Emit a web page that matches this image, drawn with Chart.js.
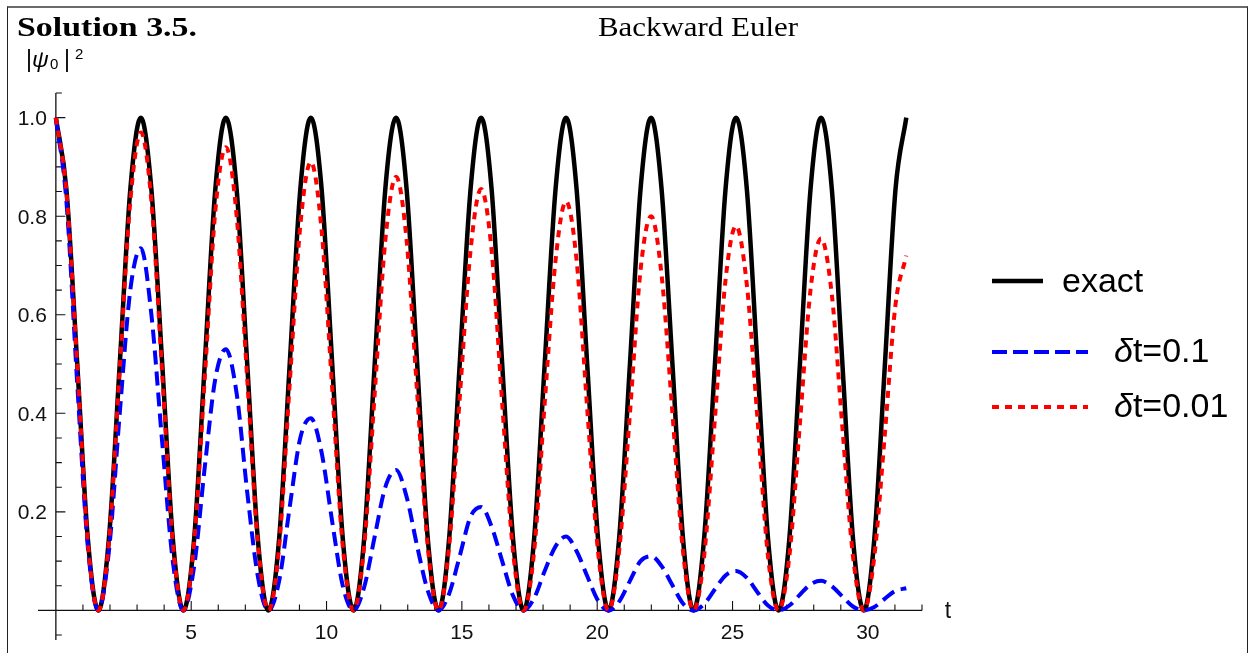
<!DOCTYPE html>
<html>
<head>
<meta charset="utf-8">
<script src="https://cdn.jsdelivr.net/npm/chart.js@4.4.1/dist/chart.umd.min.js"></script>
<style>
  html, body { margin: 0; padding: 0; background: #fff; }
  #wrap { position: relative; width: 1253px; height: 653px; overflow: hidden; }
  #frame { position: absolute; left: 7px; top: 6px; width: 1239px; height: 700px;
           border-top: 2px solid #6b6b6b; border-left: 1px solid #222; border-right: 1px solid #222; }
  canvas { position: absolute; left: 0; top: 0; }
</style>
</head>
<body>
<div id="wrap">
  <div id="frame"></div>
  <canvas id="chart" width="1253" height="653"></canvas>
</div>
<script>
// sample times (~pi/8 apart)
const times = [
  0, 0.39, 0.79, 1.18, 1.57, 1.96, 2.36, 2.75,
  3.14, 3.53, 3.93, 4.32, 4.71, 5.11, 5.50, 5.89,
  6.28, 6.68, 7.07, 7.46, 7.85, 8.25, 8.64, 9.03,
  9.42, 9.82, 10.21, 10.60, 11.00, 11.39, 11.78, 12.17,
  12.57, 12.96, 13.35, 13.74, 14.14, 14.53, 14.92, 15.32,
  15.71, 16.10, 16.49, 16.89, 17.28, 17.67, 18.06, 18.46,
  18.85, 19.24, 19.63, 20.03, 20.42, 20.81, 21.21, 21.60,
  21.99, 22.38, 22.78, 23.17, 23.56, 23.95, 24.35, 24.74,
  25.13, 25.53, 25.92, 26.31, 26.70, 27.10, 27.49, 27.88,
  28.27, 28.67, 29.06, 29.45, 29.85, 30.24, 30.63, 31.02,
  31.42
];

const exact = [
  1, 0.854, 0.5, 0.146, 0, 0.146, 0.5, 0.854,
  1, 0.854, 0.5, 0.146, 0, 0.146, 0.5, 0.854,
  1, 0.854, 0.5, 0.146, 0, 0.146, 0.5, 0.854,
  1, 0.854, 0.5, 0.146, 0, 0.146, 0.5, 0.854,
  1, 0.854, 0.5, 0.146, 0, 0.146, 0.5, 0.854,
  1, 0.854, 0.5, 0.146, 0, 0.146, 0.5, 0.854,
  1, 0.854, 0.5, 0.146, 0, 0.146, 0.5, 0.854,
  1, 0.854, 0.5, 0.146, 0, 0.146, 0.5, 0.854,
  1, 0.854, 0.5, 0.146, 0, 0.146, 0.5, 0.854,
  1, 0.854, 0.5, 0.146, 0, 0.146, 0.5, 0.854,
  1
];

// backward Euler, dt = 0.1
const dt01 = [
  1, 0.83, 0.46, 0.13, 0, 0.12, 0.40, 0.65,
  0.735, 0.60, 0.34, 0.10, 0, 0.09, 0.29, 0.47,
  0.53, 0.44, 0.24, 0.07, 0, 0.06, 0.21, 0.35,
  0.39, 0.32, 0.18, 0.05, 0, 0.047, 0.15, 0.25,
  0.285, 0.23, 0.13, 0.04, 0, 0.034, 0.11, 0.19,
  0.21, 0.17, 0.10, 0.03, 0, 0.025, 0.08, 0.13,
  0.15, 0.12, 0.07, 0.02, 0, 0.018, 0.06, 0.10,
  0.11, 0.09, 0.051, 0.014, 0, 0.013, 0.043, 0.071,
  0.08, 0.066, 0.037, 0.01, 0, 0.01, 0.032, 0.053,
  0.06, 0.049, 0.028, 0.008, 0, 0.007, 0.024, 0.040,
  0.045
];

// backward Euler, dt = 0.01
const dt001 = [
  1, 0.85, 0.50, 0.14, 0, 0.14, 0.49, 0.83,
  0.97, 0.83, 0.48, 0.14, 0, 0.14, 0.47, 0.81,
  0.94, 0.80, 0.47, 0.14, 0, 0.13, 0.46, 0.78,
  0.91, 0.77, 0.45, 0.13, 0, 0.13, 0.44, 0.75,
  0.88, 0.75, 0.44, 0.13, 0, 0.13, 0.43, 0.73,
  0.855, 0.73, 0.42, 0.12, 0, 0.12, 0.42, 0.71,
  0.83, 0.71, 0.41, 0.12, 0, 0.12, 0.40, 0.69,
  0.80, 0.68, 0.40, 0.12, 0, 0.11, 0.39, 0.67,
  0.78, 0.66, 0.39, 0.11, 0, 0.11, 0.38, 0.65,
  0.755, 0.64, 0.37, 0.11, 0, 0.11, 0.36, 0.62,
  0.72
];

const xTickValues = [5, 10, 15, 20, 25, 30];
const yTickValues = [0.2, 0.4, 0.6, 0.8, 1.0];
const yTickLabels = ["0.2", "0.4", "0.6", "0.8", "1.0"];
const seriesNames = ["exact", "δt=0.1", "δt=0.01"];

const pts = (ys) => ys.map((v, i) => ({ x: times[i], y: v }));

const sans = '"Liberation Sans", Arial, sans-serif';
const serif = '"Liberation Serif", "Times New Roman", serif';

// draw text squeezed/stretched to a target width
const fitText = (ctx, text, x, y, w) => {
  const m = ctx.measureText(text).width;
  ctx.save();
  ctx.translate(x, y);
  ctx.scale(w / m, 1);
  ctx.fillText(text, 0, 0);
  ctx.restore();
};

const axesPlugin = {
  id: "mmaAxes",
  beforeDatasetsDraw(chart) {
    const { ctx, scales: { x, y } } = chart;
    const x0 = x.getPixelForValue(0);
    const y0 = y.getPixelForValue(0);
    ctx.save();
    ctx.strokeStyle = "#111";
    ctx.lineWidth = 1.3;
    ctx.beginPath();
    ctx.moveTo(x.left, y0); ctx.lineTo(x.right, y0);
    ctx.moveTo(x0, y.top); ctx.lineTo(x0, y.bottom);
    ctx.stroke();

    ctx.lineWidth = 1.1;
    ctx.beginPath();
    for (let t = 1; t <= 32; t++) {
      const px = x.getPixelForValue(t);
      const len = t % 5 === 0 ? 9.5 : 6;
      ctx.moveTo(px, y0); ctx.lineTo(px, y0 - len);
    }
    for (let k = -1; k <= 21; k++) {
      if (k === 0) continue;
      const py = y.getPixelForValue(k * 0.05);
      const len = k % 4 === 0 ? 9.5 : 6;
      ctx.moveTo(x0, py); ctx.lineTo(x0 + len, py);
    }
    ctx.stroke();

    ctx.fillStyle = "#111";
    ctx.font = "21px " + sans;
    ctx.textAlign = "right";
    ctx.textBaseline = "alphabetic";
    yTickValues.forEach((v, i) => ctx.fillText(yTickLabels[i], x0 - 9, y.getPixelForValue(v) + 7.5));
    ctx.textAlign = "center";
    xTickValues.forEach((v) => ctx.fillText(String(v), x.getPixelForValue(v), 639));
    ctx.font = "23px " + sans;
    ctx.fillText("t", 948, 618);
    ctx.restore();
  },
  afterDraw(chart) {
    const { ctx } = chart;
    ctx.save();
    ctx.fillStyle = "#000";
    ctx.textAlign = "left";
    ctx.textBaseline = "alphabetic";

    ctx.font = "bold 28px " + serif;
    fitText(ctx, "Solution 3.5.", 17, 36, 180);
    ctx.font = "28px " + serif;
    fitText(ctx, "Backward Euler", 598, 36, 200);

    // y axis label |psi_0|^2
    ctx.font = "23px " + sans;
    ctx.fillText("|", 26, 67);
    ctx.font = "italic 23px " + sans;
    ctx.fillText("ψ", 32, 67);
    ctx.font = "15px " + sans;
    ctx.fillText("0", 50, 69);
    ctx.font = "23px " + sans;
    ctx.fillText("|", 64, 67);
    ctx.font = "15px " + sans;
    ctx.fillText("2", 75, 59);

    // legend
    ctx.lineCap = "butt";
    ctx.strokeStyle = "#000";
    ctx.lineWidth = 4.5;
    ctx.beginPath(); ctx.moveTo(992, 281); ctx.lineTo(1043, 281); ctx.stroke();
    ctx.strokeStyle = "#0000ff";
    ctx.lineWidth = 4;
    ctx.setLineDash([15, 6]);
    ctx.beginPath(); ctx.moveTo(992, 352); ctx.lineTo(1088, 352); ctx.stroke();
    ctx.strokeStyle = "#ff0000";
    ctx.setLineDash([7, 6]);
    ctx.beginPath(); ctx.moveTo(992, 407); ctx.lineTo(1088, 407); ctx.stroke();
    ctx.setLineDash([]);

    ctx.font = "34px " + sans;
    ctx.fillText(seriesNames[0], 1062, 292);
    [[seriesNames[1], 362], [seriesNames[2], 417]].forEach(([name, base]) => {
      ctx.font = "italic 34px " + sans;
      ctx.fillText(name[0], 1114, base);
      const w = ctx.measureText(name[0]).width;
      ctx.font = "34px " + sans;
      ctx.fillText(name.slice(1), 1114 + w, base);
    });
    ctx.restore();
  }
};

const lineSet = (label, data, color, dash, width, order) => ({
  label,
  data: pts(data),
  borderColor: color,
  backgroundColor: color,
  borderWidth: width,
  borderDash: dash,
  borderCapStyle: "butt",
  borderJoinStyle: "round",
  pointRadius: 0,
  cubicInterpolationMode: "monotone",
  fill: false,
  order
});

new Chart(document.getElementById("chart"), {
  type: "line",
  data: {
    datasets: [
      lineSet(seriesNames[0], exact, "#000000", [], 4.5, 3),
      lineSet(seriesNames[1], dt01, "#0000ff", [14, 7], 4, 2),
      lineSet(seriesNames[2], dt001, "#ff0000", [7, 6], 4, 1)
    ]
  },
  options: {
    responsive: false,
    animation: false,
    devicePixelRatio: 1,
    layout: { padding: { left: 38, right: 331, top: 93, bottom: 13 } },
    plugins: { legend: { display: false }, tooltip: { enabled: false } },
    scales: {
      x: { type: "linear", min: -0.66, max: 32, display: false },
      y: { type: "linear", min: -0.06, max: 1.05, display: false }
    }
  },
  plugins: [axesPlugin]
});
</script>
</body>
</html>
